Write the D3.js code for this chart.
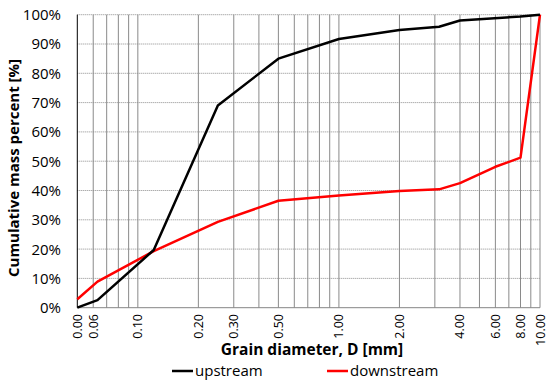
<!DOCTYPE html>
<html>
<head>
<meta charset="utf-8">
<script src="https://cdn.jsdelivr.net/npm/d3@7"></script>
<style>
  body { margin: 0; background: #fff; }
  text { font-family: "Open Sans", "Liberation Sans", sans-serif; fill: #000; }
</style>
</head>
<body>
<div id="chart"></div>
<script>
// grain sizes (mm) and cumulative mass percent
var upD = [0.05, 0.063, 0.12, 0.25, 0.5, 1, 2, 3.15, 4, 8, 10];
var upP = [0, 2.6, 19.7, 69, 85, 91.7, 94.8, 95.9, 98, 99.4, 100];
var downD = [0.05, 0.063, 0.12, 0.25, 0.5, 1, 2, 3.15, 4, 6, 8, 10];
var downP = [2.9, 8.9, 19.3, 29.3, 36.5, 38.3, 39.8, 40.4, 42.5, 48.1, 51.2, 100];

var tickVals = [0.05, 0.06, 0.1, 0.2, 0.3, 0.5, 1, 2, 4, 6, 8, 10];
var tickLabels = ["0.00", "0.06", "0.10", "0.20", "0.30", "0.50", "1.00", "2.00", "4.00", "6.00", "8.00", "10.00"];
var gridVals = [0.06, 0.07, 0.08, 0.09, 0.1, 0.2, 0.3, 0.4, 0.5, 0.6, 0.7, 0.8, 0.9, 1, 2, 3, 4, 5, 6, 7, 8, 9, 10];
var yTicks = [0, 10, 20, 30, 40, 50, 60, 70, 80, 90, 100];

var width = 550, height = 384;
var margin = { top: 14.7, right: 10, bottom: 76.3, left: 77.3 };

var svg = d3.select("#chart").append("svg")
    .attr("width", width)
    .attr("height", height);

var x = d3.scaleLog().domain([0.05, 10]).range([margin.left, 540]);
var y = d3.scaleLinear().domain([0, 100]).range([height - margin.bottom, margin.top]);

// horizontal dotted grid
svg.append("g").selectAll("line")
    .data(yTicks.slice(1))
    .enter().append("line")
    .attr("x1", x(0.05)).attr("x2", x(10))
    .attr("y1", function (d) { return y(d); })
    .attr("y2", function (d) { return y(d); })
    .attr("stroke", "#8c8c8c")
    .attr("stroke-width", 1)
    .attr("stroke-dasharray", "1,1");

// vertical grid
svg.append("g").selectAll("line")
    .data(gridVals)
    .enter().append("line")
    .attr("x1", function (d) { return x(d); })
    .attr("x2", function (d) { return x(d); })
    .attr("y1", y(0)).attr("y2", y(100))
    .attr("stroke", "#8a8a8a")
    .attr("stroke-width", 1);

// bottom axis line
svg.append("line")
    .attr("x1", x(0.05)).attr("x2", x(10))
    .attr("y1", y(0)).attr("y2", y(0))
    .attr("stroke", "#868686");

// left axis line
svg.append("line")
    .attr("x1", x(0.05)).attr("x2", x(0.05))
    .attr("y1", y(0)).attr("y2", y(100))
    .attr("stroke", "#000");

// y tick labels
svg.append("g").selectAll("text")
    .data(yTicks)
    .enter().append("text")
    .attr("x", 61)
    .attr("y", function (d) { return y(d); })
    .attr("dy", "0.36em")
    .attr("text-anchor", "end")
    .attr("font-size", "15px")
    .text(function (d) { return d + "%"; });

// x tick labels (rotated)
svg.append("g").selectAll("text")
    .data(tickVals)
    .enter().append("text")
    .attr("transform", function (d) { return "translate(" + x(d) + ",314) rotate(-90)"; })
    .attr("dy", "0.36em")
    .attr("text-anchor", "end")
    .attr("font-size", "12.5px")
    .text(function (d, i) { return tickLabels[i]; });

var line = d3.line()
    .x(function (d) { return x(d[0]); })
    .y(function (d) { return y(d[1]); });

svg.append("path")
    .datum(downD.map(function (d, i) { return [d, downP[i]]; }))
    .attr("d", line)
    .attr("fill", "none")
    .attr("stroke", "#ff0000")
    .attr("stroke-width", 2.5)
    .attr("stroke-linejoin", "round");

svg.append("path")
    .datum(upD.map(function (d, i) { return [d, upP[i]]; }))
    .attr("d", line)
    .attr("fill", "none")
    .attr("stroke", "#000")
    .attr("stroke-width", 2.5)
    .attr("stroke-linejoin", "round");

// axis titles
svg.append("text")
    .attr("x", 312)
    .attr("y", 355)
    .attr("text-anchor", "middle")
    .attr("font-size", "15.5px")
    .attr("font-weight", "bold")
    .text("Grain diameter, D [mm]");

svg.append("text")
    .attr("transform", "translate(19,168) rotate(-90)")
    .attr("text-anchor", "middle")
    .attr("font-size", "15px")
    .attr("font-weight", "bold")
    .text("Cumulative mass percent [%]");

// legend
var legend = [
    { name: "upstream", color: "#000", x: 172 },
    { name: "downstream", color: "#ff0000", x: 327 }
];
var lg = svg.append("g").selectAll("g")
    .data(legend)
    .enter().append("g")
    .attr("transform", function (d) { return "translate(" + d.x + ",371)"; });
lg.append("line")
    .attr("x1", 0).attr("x2", 21)
    .attr("stroke", function (d) { return d.color; })
    .attr("stroke-width", 2.5);
lg.append("text")
    .attr("x", 23)
    .attr("dy", "0.36em")
    .attr("font-size", "15px")
    .text(function (d) { return d.name; });
</script>
</body>
</html>
